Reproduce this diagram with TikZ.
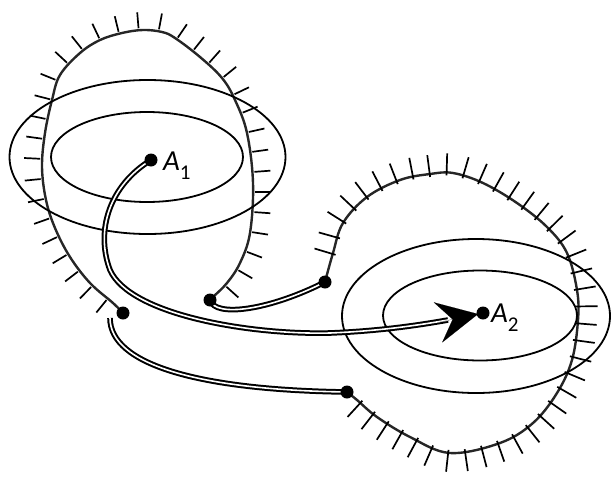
\documentclass[tikz,border=0pt]{standalone}
\usepackage{fontspec}
\setmainfont{Carlito}
\usetikzlibrary{decorations.markings,arrows.meta}
\begin{document}
\begin{tikzpicture}[x=1pt,y=-1pt,
  bound/.style={line width=2.4pt, draw=black!85, line join=round},
  lticks/.style={postaction={decorate, decoration={markings,
     mark=between positions 0.03 and 0.99 step 20pt with {\draw[line width=1.7pt, black] (0pt,2pt) -- (0pt,18pt);}}}},
  rticks/.style={postaction={decorate, decoration={markings,
     mark=between positions 0.04 and 0.99 step 17pt with {\draw[line width=1.7pt, black] (0pt,-3pt) -- (0pt,19pt);}}}},
  ell/.style={line width=1.8pt, draw=black},
  dbl/.style={draw=black, double=white, double distance=1.6pt, line width=2pt},
  dot/.style={circle, fill=black, minimum size=13pt, inner sep=0pt},
  lbl/.style={font=\fontsize{29}{30}\selectfont, inner sep=0pt, anchor=west}
]
\useasboundingbox (0,0) rectangle (611,477);

% boundaries with ticks
\draw[bound, lticks] plot[smooth, tension=0.6] coordinates {(123,313) (113,303) (90,283) (70,257) (55,228) (46,200) (42,167) (45,133) (52,100) (60,75) (80,53) (100,40) (122,33) (143,30) (162,32) (175,38) (200,57) (222,78) (235,100) (247,133) (253,183) (250,233) (240,263) (227,283) (213,297) (210,300)};
\draw[bound, rticks] plot[smooth, tension=0.6] coordinates {(325,282) (333,253) (343,223) (367,197) (400,180) (430,174) (453,173) (483,183) (517,203) (547,227) (567,253) (577,290) (578,320) (572,360) (557,393) (533,423) (500,443) (450,453) (410,437) (377,417) (357,400) (347,392)};

% ellipses
\draw[ell] (147.5,157) ellipse [x radius=138pt, y radius=77pt];
\draw[ell] (147,157) ellipse [x radius=96pt, y radius=45pt];
\draw[ell] (476,316) ellipse [x radius=134pt, y radius=77pt];
\draw[ell] (480,315.5) ellipse [x radius=97pt, y radius=45pt];

% point positions
\coordinate (A1) at (151,160);
\coordinate (A2) at (483,313);
\coordinate (L1) at (123,313);
\coordinate (L2) at (210,300);
\coordinate (R1) at (325,282);
\coordinate (R2) at (347,392);
\coordinate (S3) at (110,318);
\coordinate (AB) at (448,320);
\coordinate (AS) at (440,322);

% connectors
\draw[dbl] (A1) .. controls (110,185) and (95,230) .. (110,270)
  .. controls (130,315) and (250,335) .. (330,333)
  .. controls (380,331) and (420,325) .. (AB);
\draw[line width=0.1pt, -{Stealth[length=41pt,width=41pt,inset=15pt]}, shorten >=5pt] (AS) -- (A2);
\draw[dbl] (L2) .. controls (215,318) and (270,310) .. (R1);
\draw[dbl] (S3) .. controls (110,365) and (200,390) .. (R2);

% dots
\node[dot] (dA1) at (A1) {};
\node[dot] (dA2) at (A2) {};
\node[dot] (dL1) at (L1) {};
\node[dot] (dL2) at (L2) {};
\node[dot] (dR1) at (R1) {};
\node[dot] (dR2) at (R2) {};

% labels
\node[lbl] (tA1) at (163,166) {\textit{A}\raisebox{-0.3em}{\fontsize{21}{21}\selectfont 1}};
\node[lbl] (tA2) at (491,318) {\textit{A}\raisebox{-0.3em}{\fontsize{21}{21}\selectfont 2}};
\end{tikzpicture}
\end{document}
